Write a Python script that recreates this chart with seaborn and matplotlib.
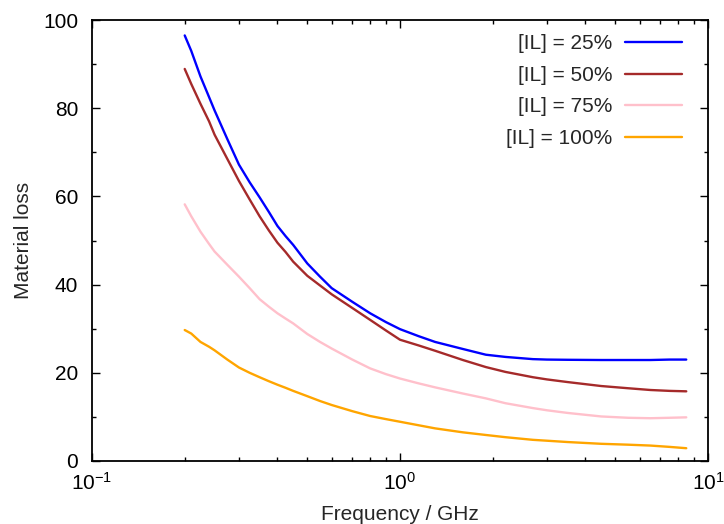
import numpy as np
import pandas as pd
import matplotlib
matplotlib.use("Agg")
import matplotlib.pyplot as plt
import matplotlib.ticker as mticker
import seaborn as sns

freq = [0.2, 0.21, 0.225, 0.24, 0.25, 0.275, 0.3, 0.325, 0.35, 0.375, 0.4, 0.425,
        0.45, 0.5, 0.55, 0.6, 0.7, 0.8, 0.9, 1.0, 1.15, 1.3, 1.6, 1.9, 2.2,
        2.7, 3.0, 3.5, 4.5, 5.5, 6.5, 7.5, 8.5]
il25 = [96.5, 93.0, 87.2, 82.5, 79.5, 73.0, 67.2, 63.2, 59.8, 56.5, 53.3, 51.0,
        49.0, 44.8, 41.8, 39.2, 36.1, 33.5, 31.5, 29.9, 28.3, 27.0, 25.4, 24.1, 23.6,
        23.1, 23.0, 22.95, 22.9, 22.9, 22.9, 23.0, 23.0]
il50 = [88.9, 85.5, 81.0, 77.0, 74.0, 68.5, 63.5, 59.3, 55.5, 52.3, 49.5, 47.4,
        45.2, 42.0, 39.8, 37.8, 34.7, 32.0, 29.6, 27.5, 26.2, 25.0, 22.9, 21.3, 20.2,
        19.0, 18.5, 17.9, 17.0, 16.5, 16.1, 15.9, 15.8]
il75 = [58.2, 55.5, 52.0, 49.2, 47.5, 44.5, 41.8, 39.2, 36.7, 35.0, 33.5, 32.3,
        31.2, 28.8, 27.0, 25.5, 23.0, 21.0, 19.7, 18.7, 17.6, 16.7, 15.3, 14.2, 13.1,
        12.0, 11.5, 10.9, 10.1, 9.8, 9.7, 9.8, 9.9]
il100 = [29.7, 28.9, 27.0, 25.9, 25.1, 23.0, 21.2, 20.0, 19.0, 18.1, 17.3, 16.6,
         15.9, 14.7, 13.6, 12.7, 11.3, 10.2, 9.5, 8.9, 8.1, 7.4, 6.5, 5.9, 5.4,
         4.8, 4.6, 4.3, 3.9, 3.7, 3.5, 3.2, 2.9]
labels = ["[IL] = 25%", "[IL] = 50%", "[IL] = 75%", "[IL] = 100%"]
colors = ["#0000ff", "#a52a2a", "#ffc0cb", "#ffa500"]

sns.set_theme(style="ticks")
plt.rcParams["font.family"] = ["Liberation Sans", "DejaVu Sans"]
plt.rcParams["mathtext.fontset"] = "custom"
plt.rcParams["mathtext.rm"] = "Liberation Sans"
plt.rcParams["mathtext.it"] = "Liberation Sans:italic"

frames = []
for lab, vals in zip(labels, [il25, il50, il75, il100]):
    frames.append(pd.DataFrame({"freq": freq, "loss": vals, "series": lab}))
df = pd.concat(frames, ignore_index=True)

FS = 15
fig = plt.figure(figsize=(7.24, 5.24), dpi=100)
ax = fig.add_axes([92 / 724, 63 / 524, 616 / 724, 441 / 524])
sns.lineplot(data=df, x="freq", y="loss", hue="series", hue_order=labels,
             palette=colors, linewidth=1.7, ax=ax, legend=False, sort=False)

ax.set_xscale("log")
ax.set_xlim(0.1, 10)
ax.set_ylim(0, 100)
ax.yaxis.set_major_locator(mticker.MultipleLocator(20))
ax.yaxis.set_minor_locator(mticker.MultipleLocator(10))
ax.xaxis.set_minor_locator(mticker.LogLocator(base=10, subs=np.arange(2, 10)))
ax.xaxis.set_minor_formatter(mticker.NullFormatter())
ax.tick_params(which="both", direction="in", top=True, right=True,
               labelsize=FS, colors="black", width=1)
ax.tick_params(which="major", length=6)
ax.tick_params(axis="y", which="major", pad=10)
ax.tick_params(axis="x", which="major", pad=8)
ax.tick_params(which="minor", length=3)
for s in ax.spines.values():
    s.set_linewidth(1.3)
    s.set_color("black")

ax.set_xlabel("Frequency / GHz", fontsize=FS, labelpad=8)
ax.set_ylabel("Material loss", fontsize=FS, labelpad=7)

handles = [plt.Line2D([], [], color=c, lw=1.7) for c in colors]
ax.legend(handles, labels, loc="upper right", frameon=False, markerfirst=False,
          fontsize=FS, handlelength=2.75, handletextpad=0.6, labelspacing=0.6,
          bbox_to_anchor=(0.985, 1.005), borderpad=0.3)

fig.savefig("out.png", dpi=100)
